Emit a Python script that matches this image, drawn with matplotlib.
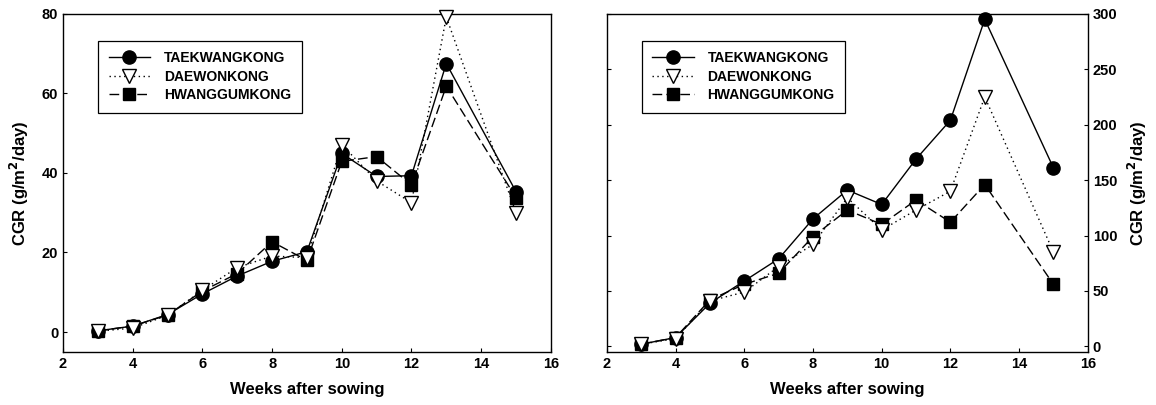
import matplotlib
matplotlib.use("Agg")
import matplotlib.pyplot as plt

plt.rcParams['font.family'] = ['Liberation Sans', 'DejaVu Sans']
plt.rcParams['font.weight'] = 'bold'

weeks = [3, 4, 5, 6, 7, 8, 9, 10, 11, 12, 13, 15]
names = ["TAEKWANGKONG", "DAEWONKONG", "HWANGGUMKONG"]

# left panel
left_taek = [0.3, 1.5, 4.4, 9.6, 14.1, 17.8, 20.2, 44.9, 39.1, 39.3, 67.5, 35.3]
left_daew = [0.2, 1.0, 4.2, 10.5, 16.2, 19.1, 18.7, 47.1, 38.0, 32.5, 79.2, 30.0]
left_hwang = [0.3, 1.5, 4.3, 10.3, 14.7, 22.7, 18.0, 42.9, 44.1, 37.0, 61.8, 33.8]

# right panel
right_taek = [2, 8, 39, 59, 79, 115, 141, 128, 169, 204, 295, 161]
right_daew = [2, 7, 41, 49, 72, 92, 134, 105, 123, 140, 225, 85]
right_hwang = [2, 8, 42, 56, 66, 99, 123, 110, 132, 112, 146, 56]

yticks_left = [0, 20, 40, 60, 80]
yticks_right = [0, 50, 100, 150, 200, 250, 300]
xticks = [2, 4, 6, 8, 10, 12, 14, 16]

fig = plt.figure(figsize=(11.56, 4.05), dpi=100)
ax1 = fig.add_axes([0.0545, 0.131, 0.422, 0.835])
ax2 = fig.add_axes([0.525, 0.131, 0.416, 0.835])


def draw(ax, taek, daew, hwang):
    ax.plot(weeks, taek, color='black', lw=1.0, ls='-', marker='o', ms=9.5,
            mfc='black', mec='black', label=names[0], clip_on=False, zorder=3)
    ax.plot(weeks, daew, color='black', lw=1.0, ls=(0, (1, 2.5)), marker='v', ms=9.5,
            mfc='white', mec='black', mew=1.0, label=names[1], clip_on=False, zorder=4)
    ax.plot(weeks, hwang, color='black', lw=1.0, ls=(0, (7, 3)), marker='s', ms=8.5,
            mfc='black', mec='black', label=names[2], clip_on=False, zorder=3)
    ax.set_xlim(2, 16)
    ax.set_xticks(xticks)
    ax.set_xlabel("Weeks after sowing", fontsize=12, fontweight='bold', labelpad=8)
    for s in ax.spines.values():
        s.set_linewidth(1.0)
    ax.tick_params(direction='in', length=3, width=0.8, labelsize=10.5)
    for lab in ax.get_xticklabels() + ax.get_yticklabels():
        lab.set_fontweight('bold')
    leg = ax.legend(loc='upper left', bbox_to_anchor=(0.072, 0.92), borderaxespad=0,
                    fancybox=False, edgecolor='black', framealpha=1, handlelength=3.0,
                    fontsize=10, borderpad=0.75, labelspacing=0.32, handletextpad=1.0)
    leg.get_frame().set_linewidth(0.9)
    for t in leg.get_texts():
        t.set_fontweight('bold')


draw(ax1, left_taek, left_daew, left_hwang)
ax1.set_ylim(-5, 80)
ax1.set_yticks(yticks_left)
for lab in ax1.get_yticklabels():
    lab.set_fontweight('bold')
ax1.set_ylabel("CGR (g/m$^\\mathbf{2}$/day)", fontsize=12, fontweight='bold', labelpad=8)

draw(ax2, right_taek, right_daew, right_hwang)
ax2.set_ylim(-5, 300)
ax2.set_yticks(yticks_right)
ax2.yaxis.tick_right()
ax2.tick_params(axis='y', which='both', left=True, right=True, direction='in')
for lab in ax2.get_yticklabels():
    lab.set_fontweight('bold')
ax2.yaxis.set_label_position('right')
ax2.set_ylabel("CGR (g/m$^\\mathbf{2}$/day)", fontsize=12, fontweight='bold', labelpad=6)

fig.savefig("out.png", dpi=100)
